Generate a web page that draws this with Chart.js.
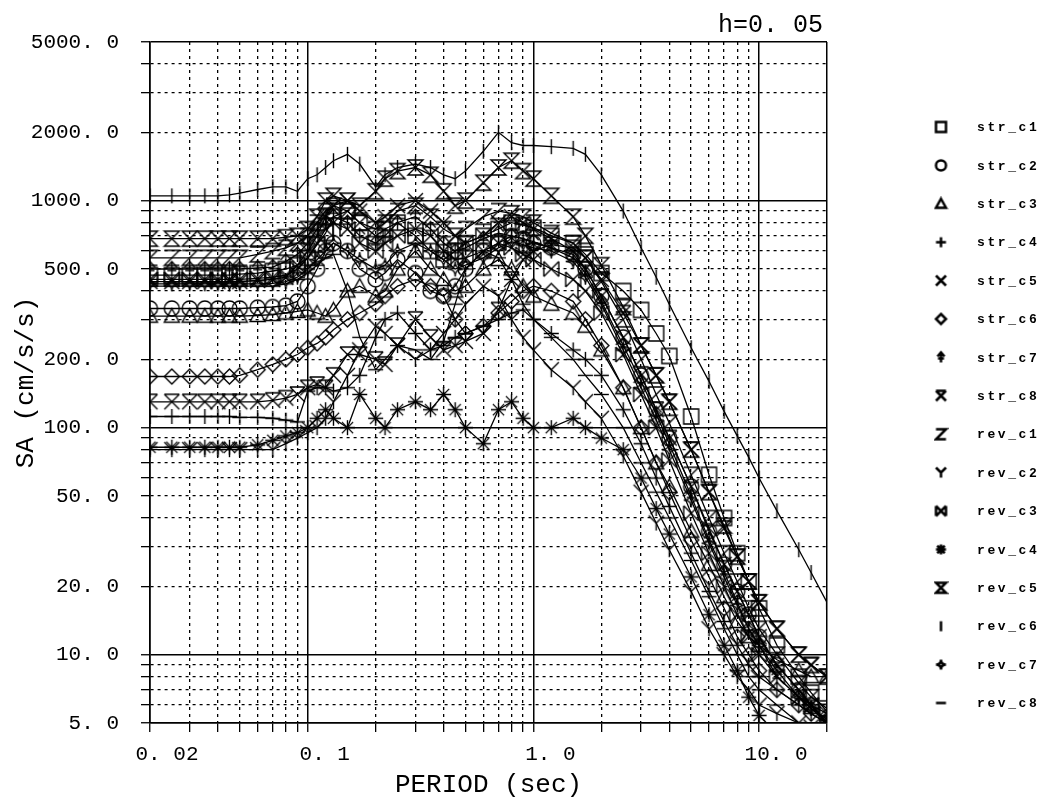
<!DOCTYPE html>
<html>
<head>
<meta charset="utf-8">
<script src="https://cdn.jsdelivr.net/npm/chart.js@4.4.0/dist/chart.umd.min.js"></script>
<style>
  html, body { margin: 0; padding: 0; background: #fff; }
  canvas { display: block; }
</style>
</head>
<body>
<canvas id="sa" width="1045" height="804"></canvas>
<script>
// periodos (sec)
const periods = [0.02,0.025,0.03,0.035,0.04,0.045,0.05,0.06,0.07,0.08,0.09,0.1,
                 0.11,0.12,0.13,0.15,0.17,0.2,0.22,0.25,0.3,0.35,0.4,0.45,
                 0.5,0.6,0.7,0.8,0.9,1.0,1.2,1.5,1.7,2.0,2.5,3.0,
                 3.5,4.0,5.0,6.0,7.0,8.0,9.0,10,12,15,17,20];

// SA (cm/s/s) por registro
const str_c1 = [470,470,470,470,470,470,475,480,490,500,520,560,
                640,720,850,900,800,700,750,800,700,600,550,600,
                650,700,750,800,780,760,700,650,580,480,400,330,
                260,207,112,62,40,28,21,16,11,8,6.8,5.6];
const str_c2 = [335,335,335,335,335,335,335,338,340,345,360,420,
                500,600,650,600,500,450,480,550,480,400,380,420,
                500,600,650,700,680,650,620,580,500,380,250,170,
                120,90,55,35,25,19,15,12,9,7,6,5];
const str_c3 = [310,310,310,310,310,310,310,312,315,320,325,330,
                320,310,330,400,420,380,400,500,600,500,450,400,
                420,500,550,500,420,380,350,320,280,220,150,100,
                70,55,35,25,18,14,12,11,9.5,8.5,8,8];
const str_c4 = [112,112,112,112,112,112,111,111,110,108,106,145,
                150,150,145,150,170,250,300,320,260,220,230,250,
                260,280,300,320,330,300,260,220,200,170,120,85,
                60,45,28,19,14,11,9,8,7,6,5.5,5];
const str_c5 = [440,440,440,440,440,440,440,445,450,460,520,600,
                700,850,950,1000,900,800,850,950,1000,900,800,700,
                650,700,800,850,800,750,680,600,500,380,250,170,
                120,90,55,36,25,19,15,12,9,7,6,5];
const str_c6 = [168,168,168,168,168,168,170,180,190,200,210,225,
                235,250,270,300,320,350,380,420,450,420,380,300,
                260,280,320,360,400,420,400,360,300,230,150,100,
                70,52,32,22,16,12,10,8.5,7,6,5.5,5];
const str_c7 = [500,500,500,500,500,500,500,505,510,540,580,650,
                750,800,850,800,700,650,700,800,850,750,650,600,
                620,680,720,700,680,660,620,560,480,360,230,160,
                115,85,50,32,23,17,13,11,8,6.5,5.8,5.2];
const str_c8 = [130,130,130,130,130,130,130,130,132,135,140,150,
                155,150,170,210,210,200,190,230,300,250,220,230,
                240,260,330,450,550,600,640,620,560,450,320,230,
                170,130,80,52,36,27,21,17,13,10,9,8];
const rev_c1 = [560,560,560,560,560,560,560,580,600,620,650,700,
                800,900,950,900,800,750,800,900,950,850,750,700,
                750,850,900,880,850,800,720,650,560,440,300,200,
                140,105,62,40,28,21,16,13,10,7.5,6.5,5.8];
const rev_c2 = [80,80,80,80,80,80,80,80,80,85,90,95,
                100,110,130,170,220,280,260,230,200,220,260,300,
                350,420,380,300,250,220,180,150,130,110,75,52,
                38,29,19,13,10,8,7,6,5.5,5,4.8,4.6];
const rev_c3 = [450,450,450,450,450,450,450,455,460,470,500,560,
                650,750,800,750,650,600,650,700,750,700,600,550,
                560,600,650,620,580,550,500,450,400,320,210,140,
                100,72,42,28,20,15,12,10,8,6.5,6,5.5];
const rev_c4 = [82,82,82,82,82,82,82,84,88,92,95,100,
                110,120,110,100,140,110,100,120,130,120,140,120,
                100,85,120,130,110,100,100,110,100,90,80,60,
                44,34,22,15,11,8.5,6.5,5.4,4.5,4,3.8,3.5];
const rev_c5 = [680,680,680,680,680,680,680,680,680,690,700,750,
                850,1000,1050,1000,950,1100,1250,1350,1400,1300,1100,950,
                1000,1200,1400,1500,1350,1250,1050,850,700,520,340,230,
                170,130,80,52,37,27,21,17,13,10,9,8];
const rev_c6 = [1050,1050,1050,1050,1050,1060,1080,1120,1150,1150,1100,1250,
                1300,1400,1500,1600,1450,1150,1300,1400,1450,1400,1300,1250,
                1350,1650,2000,1800,1750,1750,1730,1700,1600,1300,900,620,
                460,350,225,160,118,92,74,60,43,29,23,17];
const rev_c7 = [430,430,430,430,430,430,430,430,432,440,460,500,
                550,600,650,600,550,500,520,600,650,600,550,500,
                520,560,620,660,640,620,600,540,460,350,220,150,
                108,80,48,31,22,16.5,13,11,8.5,6.5,5.8,5];
const rev_c8 = [420,420,420,420,420,420,420,420,420,430,450,480,
                520,560,580,400,250,180,200,230,220,200,240,350,
                500,600,560,450,350,300,250,200,170,140,100,70,
                52,40,26,18,13,10,8,7,6,5,4.6,4.3];

const seriesNames = ['str_c1','str_c2','str_c3','str_c4','str_c5','str_c6','str_c7','str_c8',
                     'rev_c1','rev_c2','rev_c3','rev_c4','rev_c5','rev_c6','rev_c7','rev_c8'];
const seriesValues = [str_c1,str_c2,str_c3,str_c4,str_c5,str_c6,str_c7,str_c8,
                      rev_c1,rev_c2,rev_c3,rev_c4,rev_c5,rev_c6,rev_c7,rev_c8];
const markerTypes = ['square','circle','triangle','plus','cross','diamond','spade','hourTop',
                     'zed','why','bowtie','star','hourglass','vline','flower','dash'];

// ejes
const xGrid = [0.02,0.03,0.04,0.05,0.06,0.07,0.08,0.09,0.1,0.2,0.3,0.4,0.5,0.6,0.7,0.8,0.9,
               1,2,3,4,5,6,7,8,9,10,20];
const xLabelVals = [0.02, 0.1, 1, 10];
const xLabelText = ['0. 02', '0. 1', '1. 0', '10. 0'];
const yGrid = [5,6,7,8,9,10,20,30,40,50,60,70,80,90,100,200,300,400,500,600,700,800,900,
               1000,2000,3000,4000,5000];
const yLabelVals = [5,10,20,50,100,200,500,1000,2000,5000];

const FONT = '"Liberation Mono", "DejaVu Sans Mono", monospace';

// dibujar marcadores en un canvas pequeño
function makeMarker(type, s, lw) {
    const d = Math.ceil(s * 2 + lw + 2);
    const c = document.createElement('canvas');
    c.width = d; c.height = d;
    const g = c.getContext('2d');
    g.translate(d / 2, d / 2);
    g.strokeStyle = '#000';
    g.lineWidth = lw;
    g.beginPath();
    switch (type) {
        case 'square': g.rect(-s, -s, 2 * s, 2 * s); break;
        case 'circle': g.arc(0, 0, s, 0, Math.PI * 2); break;
        case 'triangle':
            g.moveTo(0, -s); g.lineTo(s, s * 0.8); g.lineTo(-s, s * 0.8); g.closePath(); break;
        case 'plus':
            g.moveTo(-s, 0); g.lineTo(s, 0); g.moveTo(0, -s); g.lineTo(0, s); break;
        case 'cross':
            g.moveTo(-s, -s); g.lineTo(s, s); g.moveTo(s, -s); g.lineTo(-s, s); break;
        case 'diamond':
            g.moveTo(0, -s); g.lineTo(s, 0); g.lineTo(0, s); g.lineTo(-s, 0); g.closePath(); break;
        case 'spade':
            g.moveTo(0, s); g.lineTo(0, -s);
            g.moveTo(-s * 0.7, -s * 0.2); g.lineTo(0, -s); g.lineTo(s * 0.7, -s * 0.2);
            g.moveTo(-s * 0.6, s * 0.2); g.lineTo(s * 0.6, s * 0.2); break;
        case 'hourTop':
            g.moveTo(-s, -s); g.lineTo(s, -s);
            g.moveTo(-s, -s); g.lineTo(s, s); g.moveTo(s, -s); g.lineTo(-s, s); break;
        case 'zed':
            g.moveTo(-s, -s); g.lineTo(s, -s); g.lineTo(-s, s); g.lineTo(s, s); break;
        case 'why':
            g.moveTo(-s, -s); g.lineTo(0, 0); g.lineTo(s, -s); g.moveTo(0, 0); g.lineTo(0, s); break;
        case 'bowtie':
            g.moveTo(-s, -s); g.lineTo(s, s); g.moveTo(s, -s); g.lineTo(-s, s);
            g.moveTo(-s, -s); g.lineTo(-s, s); g.moveTo(s, -s); g.lineTo(s, s); break;
        case 'star':
            g.moveTo(0, -s); g.lineTo(0, s); g.moveTo(-s, 0); g.lineTo(s, 0);
            g.moveTo(-s * 0.75, -s * 0.75); g.lineTo(s * 0.75, s * 0.75);
            g.moveTo(s * 0.75, -s * 0.75); g.lineTo(-s * 0.75, s * 0.75); break;
        case 'hourglass':
            g.moveTo(-s, -s); g.lineTo(s, -s); g.lineTo(-s, s); g.lineTo(s, s); g.closePath(); break;
        case 'vline': g.moveTo(0, -s); g.lineTo(0, s); break;
        case 'flower':
            g.moveTo(0, -s); g.quadraticCurveTo(0, 0, s, 0); g.quadraticCurveTo(0, 0, 0, s);
            g.quadraticCurveTo(0, 0, -s, 0); g.quadraticCurveTo(0, 0, 0, -s); break;
        case 'dash': g.moveTo(-s, 0); g.lineTo(s, 0); break;
    }
    g.stroke();
    return c;
}

const plotMarkers = markerTypes.map(t => makeMarker(t, 7.5, 1.4));
const legendMarkers = markerTypes.map(t => makeMarker(t, 5, 2.5));

const datasets = seriesNames.map((name, i) => ({
    label: name,
    data: periods.map((p, j) => ({ x: p, y: seriesValues[i][j] })),
    borderColor: '#000',
    borderWidth: 1.3,
    pointStyle: plotMarkers[i],
    pointRadius: 7,
    tension: 0,
    fill: false
}));

function isSolid(v, min, max) {
    const l = Math.log10(v);
    return Math.abs(l - Math.round(l)) < 1e-6 || Math.abs(v - min) < 1e-9 || Math.abs(v - max) < 1e-9;
}

// leyenda y texto h=0.05
const extras = {
    id: 'extras',
    afterDraw(chart) {
        const ctx = chart.ctx;
        ctx.save();
        ctx.fillStyle = '#000';
        ctx.font = '25px ' + FONT;
        ctx.textAlign = 'right';
        ctx.textBaseline = 'middle';
        ctx.fillText('h=0. 05', 823, 25);

        ctx.font = 'bold 13px ' + FONT;
        ctx.textAlign = 'left';
        ctx.letterSpacing = '2.6px';
        seriesNames.forEach((name, i) => {
            const y = 127 + i * 38.4;
            const m = legendMarkers[i];
            ctx.drawImage(m, 941 - m.width / 2, y - m.height / 2);
            ctx.fillText(name, 977, y + 1);
        });
        ctx.restore();
    }
};

new Chart(document.getElementById('sa'), {
    type: 'line',
    data: { datasets },
    plugins: [extras],
    options: {
        responsive: false,
        animation: false,
        events: [],
        layout: { padding: { top: 42, right: 218, left: 0, bottom: 0 } },
        plugins: { legend: { display: false }, tooltip: { enabled: false } },
        scales: {
            x: {
                type: 'logarithmic',
                min: 0.02, max: 20,
                afterBuildTicks: ax => { ax.ticks = xGrid.map(v => ({ value: v })); },
                afterFit: ax => { ax.height = 81; },
                ticks: {
                    autoSkip: false, maxRotation: 0, padding: 10, labelOffset: 17,
                    color: '#000', font: { family: FONT, size: 21 },
                    callback: v => {
                        const k = xLabelVals.findIndex(a => Math.abs(a - v) < 1e-9);
                        return k >= 0 ? xLabelText[k] : '';
                    }
                },
                grid: {
                    color: '#000',
                    lineWidth: c => (c.tick && isSolid(c.tick.value, 0.02, 20)) ? 1.5 : 1.3,
                    tickLength: 9, tickColor: '#000', tickWidth: 1.3
                },
                border: {
                    color: '#000', width: 1.6,
                    dash: c => (c.tick && !isSolid(c.tick.value, 0.02, 20)) ? [3, 4] : []
                },
                title: {
                    display: true, text: 'PERIOD (sec)', color: '#000',
                    font: { family: FONT, size: 26 }, padding: { top: 0, bottom: 3 }
                }
            },
            y: {
                type: 'logarithmic',
                min: 5, max: 5000,
                afterBuildTicks: ax => { ax.ticks = yGrid.map(v => ({ value: v })); },
                afterFit: ax => { ax.width = 150; },
                ticks: {
                    autoSkip: false, padding: 22,
                    color: '#000', font: { family: FONT, size: 21 },
                    callback: v => yLabelVals.some(a => Math.abs(a - v) < 1e-9)
                        ? v.toFixed(1).replace('.', '. ') : ''
                },
                grid: {
                    color: '#000',
                    lineWidth: c => (c.tick && isSolid(c.tick.value, 5, 5000)) ? 1.5 : 1.3,
                    tickLength: 9, tickColor: '#000', tickWidth: 1.3
                },
                border: {
                    color: '#000', width: 1.6,
                    dash: c => (c.tick && !isSolid(c.tick.value, 5, 5000)) ? [3, 4] : []
                },
                title: {
                    display: true, text: 'SA (cm/s/s)', color: '#000',
                    font: { family: FONT, size: 26 }, padding: { top: 11, bottom: 0 }
                }
            }
        }
    }
});
</script>
</body>
</html>
